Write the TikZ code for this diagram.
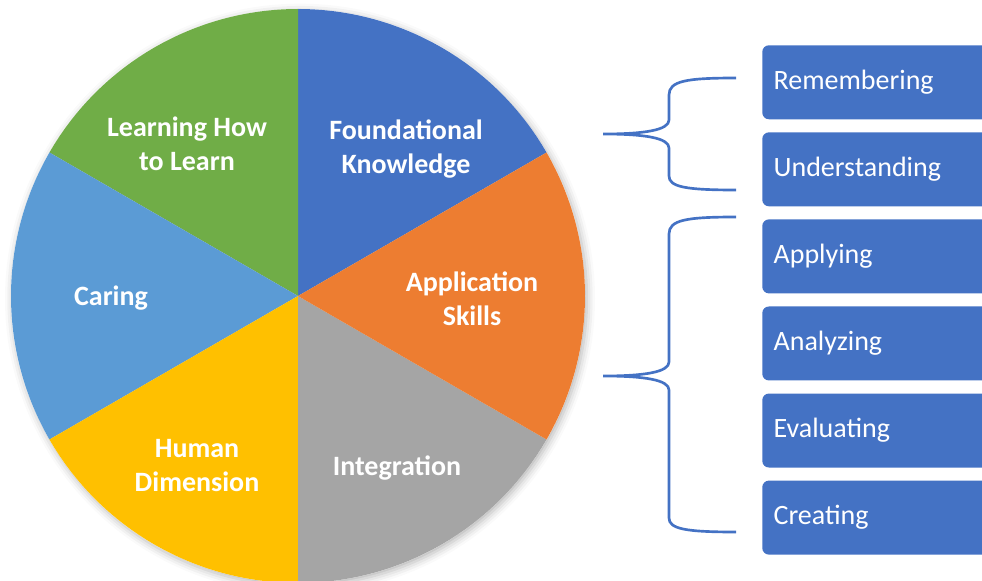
\documentclass[tikz,border=0pt]{standalone}
\usepackage{fontspec}
\setmainfont{Carlito}
\usetikzlibrary{positioning,shadows.blur}

\definecolor{fkblue}{HTML}{4472C4}
\definecolor{asorange}{HTML}{ED7D31}
\definecolor{intgray}{HTML}{A5A5A5}
\definecolor{hdyellow}{HTML}{FFC000}
\definecolor{carblue}{HTML}{5B9BD5}
\definecolor{lhgreen}{HTML}{70AD47}

\tikzset{
  slicelabel/.style={text=white, align=center, font=\bfseries\fontsize{21}{25.5}\selectfont},
  levelbox/.style={rectangle, rounded corners=5pt, fill=fkblue, text=white,
    minimum width=180pt, minimum height=55.5pt, text width=163pt, inner xsep=8.5pt,
    align=left, anchor=north west, font=\fontsize{21}{25}\selectfont},
  bracket/.style={draw=fkblue, line width=2pt}
}

\begin{document}
\begin{tikzpicture}[x=0.75pt, y=0.75pt]
\clip (0,0) rectangle (982,-581);
\coordinate (ctr) at (298,-296);

% pie with its soft shadow
\fill[white, blur shadow={shadow xshift=1.5pt, shadow yshift=-2pt, shadow blur radius=6pt, shadow opacity=30}] (ctr) circle[radius=287];
\fill[fkblue] (ctr) -- ++(30:287) arc[start angle=30, end angle=90, radius=287] -- cycle;
\fill[lhgreen] (ctr) -- ++(90:287) arc[start angle=90, end angle=150, radius=287] -- cycle;
\fill[carblue] (ctr) -- ++(150:287) arc[start angle=150, end angle=210, radius=287] -- cycle;
\fill[hdyellow] (ctr) -- ++(210:287) arc[start angle=210, end angle=270, radius=287] -- cycle;
\fill[intgray] (ctr) -- ++(270:287) arc[start angle=270, end angle=330, radius=287] -- cycle;
\fill[asorange] (ctr) -- ++(-30:287) arc[start angle=-30, end angle=30, radius=287] -- cycle;

\node[slicelabel] (lhl) at (187,-144) {Learning How\\to Learn};
\node[slicelabel] (fk) at (406,-149) {Foundational\\Knowledge};
\node[slicelabel] (as) at (472,-299) {Application\\Skills};
\node[slicelabel] (int) at (397,-468) {Integration};
\node[slicelabel] (hd) at (197,-466) {Human\\Dimension};
\node[slicelabel] (car) at (111,-298) {Caring};

% levels
\node[levelbox] (rem) at (762,-45) {Remembering};
\node[levelbox, below=9.4pt of rem] (und) {Understanding};
\node[levelbox, below=9.4pt of und] (app) {Applying};
\node[levelbox, below=9.4pt of app] (ana) {Analyzing};
\node[levelbox, below=9.4pt of ana] (eva) {Evaluating};
\node[levelbox, below=9.4pt of eva] (cre) {Creating};

% braces
\coordinate (b1top) at (736,-78);
\coordinate (b1tip) at (603,-134);
\coordinate (b1bot) at (736,-190);
\draw[bracket] (b1top) .. controls (686,-78) and (669,-81) .. (669,-95) -- (669,-120)
  .. controls (669,-130) and (645,-134) .. (b1tip)
  .. controls (645,-134) and (669,-138) .. (669,-148) -- (669,-176)
  .. controls (669,-187) and (686,-190) .. (b1bot);

\coordinate (b2top) at (736,-217);
\coordinate (b2tip) at (603,-376);
\coordinate (b2bot) at (736,-532);
\draw[bracket] (b2top) .. controls (686,-217) and (669,-220) .. (669,-234) -- (669,-362)
  .. controls (669,-372) and (645,-376) .. (b2tip)
  .. controls (645,-376) and (669,-380) .. (669,-390) -- (669,-518)
  .. controls (669,-529) and (686,-532) .. (b2bot);
\end{tikzpicture}
\end{document}
